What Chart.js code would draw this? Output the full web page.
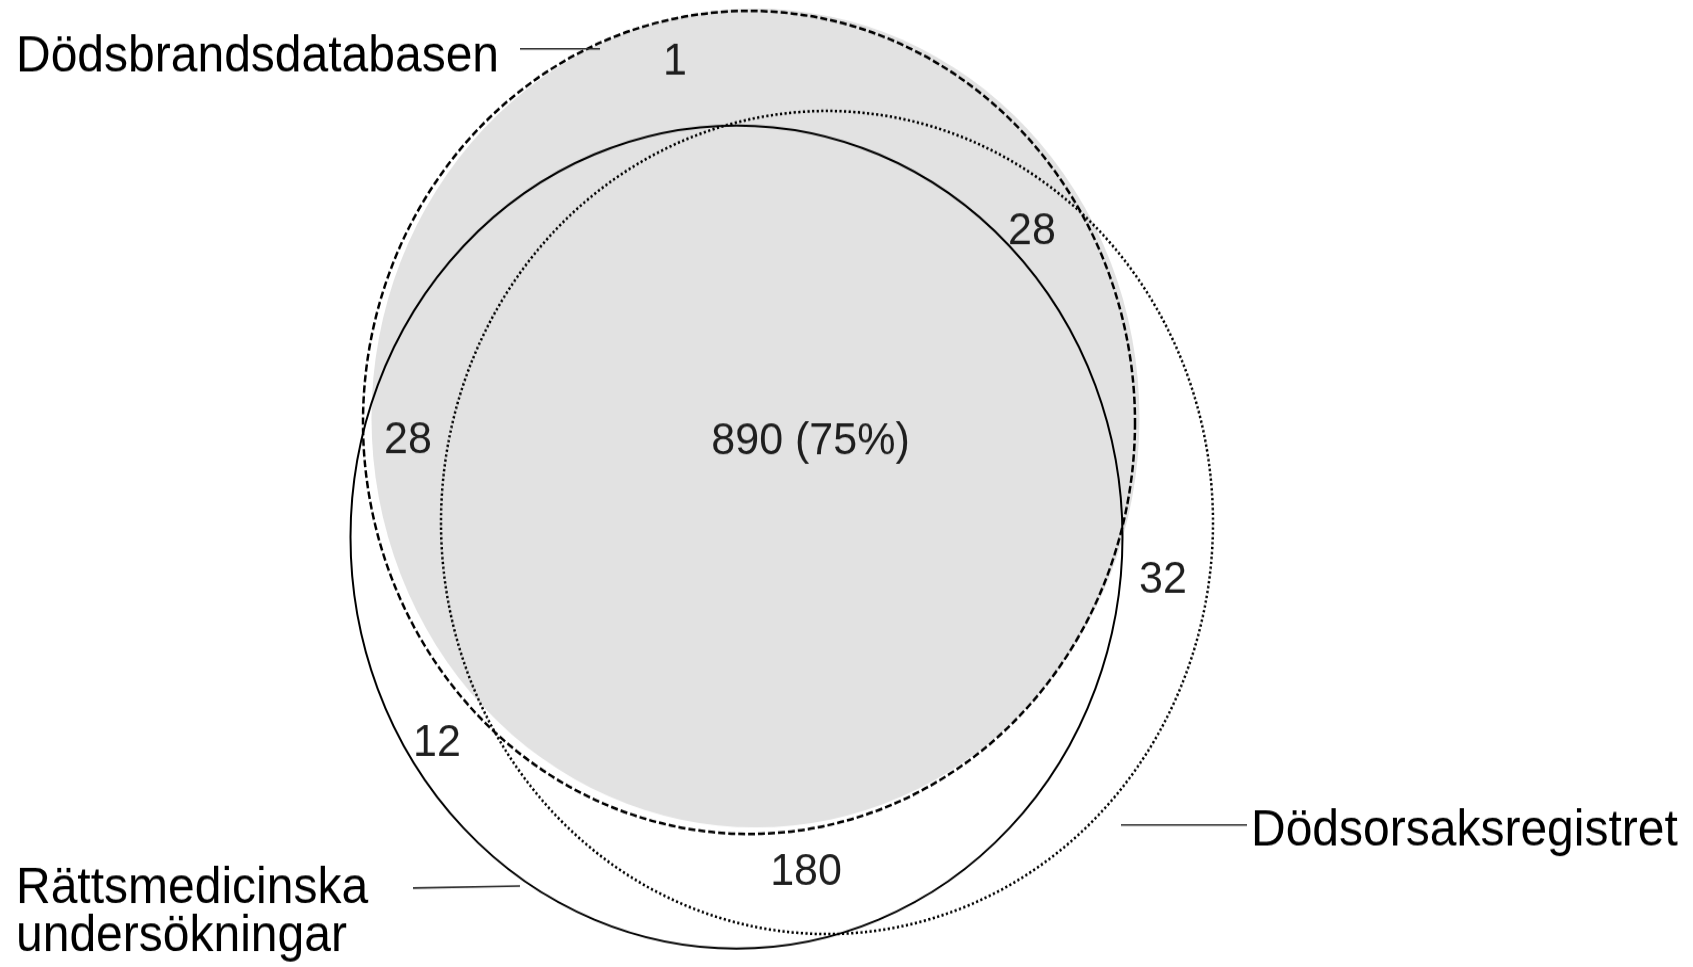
<!DOCTYPE html>
<html>
<head>
<meta charset="utf-8">
<script src="https://cdn.jsdelivr.net/npm/chart.js@4/dist/chart.umd.min.js"></script>
<style>
html, body { margin: 0; padding: 0; background: #ffffff; overflow: hidden; }
#wrap { position: absolute; left: 0; top: 0; width: 1693px; height: 907px;
        transform: scaleY(1.06615); transform-origin: 0 0; }
</style>
</head>
<body>
<div id="wrap"><canvas id="c"></canvas></div>
<script>
// ---- Sets (Venn circles) ----
const setNames   = ["Dödsbrandsdatabasen", "Rättsmedicinska undersökningar", "Dödsorsaksregistret"];
const setCenterX = [749, 736.5, 827];
const setCenterY = [422.4, 537, 522.5];
const setRadius  = [386, 386, 386];

// shaded area (Dödsbrandsdatabasen highlight)
const shadeCenterX = [755.5];
const shadeCenterY = [418];
const shadeRadius  = [384];

// ---- Region counts ----
const regionLabels = ["1", "28", "28", "890 (75%)", "32", "12", "180"];
const regionX      = [675, 1032, 408, 810.5, 1163, 437, 806];
const regionY      = [58, 228, 437, 438, 576, 740, 869];

// ---- Set name labels ----
const nameLines    = [["Dödsbrandsdatabasen"], ["Rättsmedicinska", "undersökningar"], ["Dödsorsaksregistret"]];
const nameX        = [16, 16, 1251];
const nameBaseline = [71, 903, 845];

// ---- Leader lines ----
const leaderX1 = [520, 413, 1121];
const leaderY1 = [48.7, 888, 825];
const leaderX2 = [600, 520, 1247];
const leaderY2 = [48.7, 886, 825];

const Y_MAX = 967, X_MAX = 1693;

const circleStyles = [
  { dash: [7, 3],   width: 2.5 },
  { dash: [],       width: 2.0 },
  { dash: [2.2, 2.4], width: 2.5 }
];

const datasets = [];
datasets.push({
  type: 'bubble', label: 'shade', clip: false, order: 10,
  data: shadeCenterX.map((x, i) => ({ x: x, y: shadeCenterY[i], rad: shadeRadius[i], r: 0 })),
  backgroundColor: '#e2e2e2', borderWidth: 0, borderColor: 'rgba(0,0,0,0)'
});
setNames.forEach((n, i) => {
  datasets.push({
    type: 'bubble', label: n, clip: false, order: 5 - i, dash: circleStyles[i].dash,
    data: [{ x: setCenterX[i], y: setCenterY[i], rad: setRadius[i], r: 0 }],
    backgroundColor: 'rgba(0,0,0,0)', borderColor: '#000000', borderWidth: circleStyles[i].width
  });
});
leaderX1.forEach((x, i) => {
  datasets.push({
    type: 'scatter', label: 'leader' + i, showLine: true, clip: false, order: 0,
    data: [{ x: x, y: leaderY1[i] }, { x: leaderX2[i], y: leaderY2[i] }],
    borderColor: '#2a2a2a', borderWidth: 1.6, pointRadius: 0, fill: false
  });
});

const dashPlugin = {
  id: 'dash',
  beforeDatasetDraw(chart, args) {
    const ds = chart.data.datasets[args.index];
    chart.ctx.save();
    chart.ctx.setLineDash(ds.dash || []);
  },
  afterDatasetDraw(chart) { chart.ctx.restore(); }
};

const textPlugin = {
  id: 'texts',
  afterDatasetsDraw(chart) {
    const ctx = chart.ctx, xs = chart.scales.x, ys = chart.scales.y;
    ctx.save();
    const numSize = 43;
    ctx.font = numSize + 'px "Liberation Sans", Arial, sans-serif';
    ctx.fillStyle = '#1e1e1e';
    ctx.textAlign = 'center';
    ctx.textBaseline = 'alphabetic';
    regionLabels.forEach((t, i) => {
      ctx.fillText(t, xs.getPixelForValue(regionX[i]), ys.getPixelForValue(regionY[i]) + 0.358 * numSize);
    });
    const nameSize = 48;
    ctx.font = nameSize + 'px "Liberation Sans", Arial, sans-serif';
    ctx.fillStyle = '#000000';
    ctx.textAlign = 'left';
    nameLines.forEach((lines, i) => {
      lines.forEach((line, j) => {
        ctx.fillText(line, xs.getPixelForValue(nameX[i]), ys.getPixelForValue(nameBaseline[i] + j * 47.5));
      });
    });
    ctx.restore();
  }
};

const chart = new Chart(document.getElementById('c'), {
  type: 'bubble',
  data: { datasets: datasets },
  options: {
    responsive: true, maintainAspectRatio: false, animation: false, events: [],
    layout: { padding: 0, autoPadding: false },
    plugins: { legend: { display: false }, tooltip: { enabled: false }, title: { display: false } },
    scales: {
      x: { type: 'linear', min: 0, max: X_MAX, display: false },
      y: { type: 'linear', min: 0, max: Y_MAX, reverse: true, display: false }
    }
  },
  plugins: [dashPlugin, textPlugin]
});

// convert radii (data units) into bubble pixel radii through the x scale
function syncRadii() {
  const xs = chart.scales.x;
  chart.data.datasets.forEach(ds => {
    if (ds.type === 'bubble') {
      ds.data = ds.data.map(p => Object.assign({}, p, { r: xs.getPixelForValue(p.rad) - xs.getPixelForValue(0) }));
    }
  });
  chart.update('none');
}
syncRadii();
</script>
</body>
</html>
